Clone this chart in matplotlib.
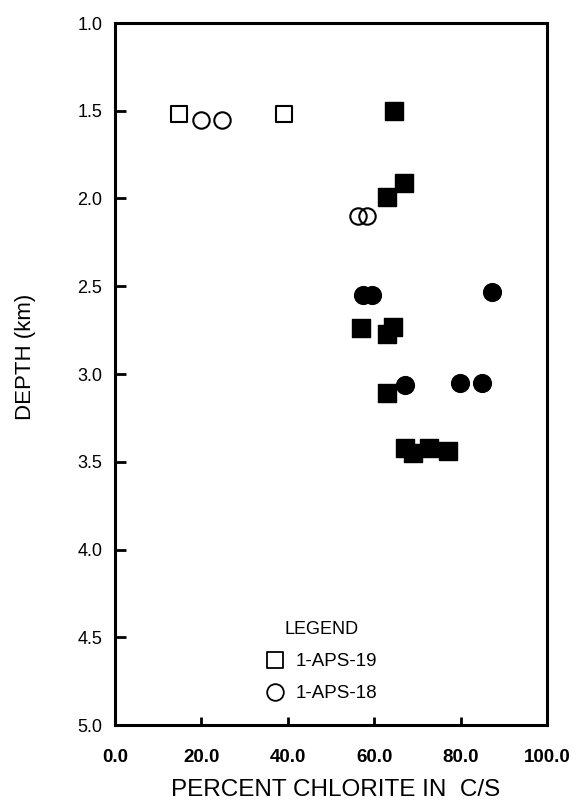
import matplotlib
matplotlib.use("Agg")
import matplotlib.pyplot as plt
from matplotlib.markers import MarkerStyle
from matplotlib.lines import Line2D

plt.rcParams['font.family'] = ['Liberation Sans', 'DejaVu Sans']

# Open squares: 1-APS-19
aps19_open_x = [14.8, 39.1]
aps19_open_y = [1.52, 1.52]
# Open circles: 1-APS-18
aps18_open_x = [19.9, 24.8, 56.3, 58.3]
aps18_open_y = [1.55, 1.55, 2.10, 2.10]
# Filled squares
aps19_fill_x = [64.6, 66.9, 63.0, 56.9, 64.4, 62.9, 63.0, 67.1, 69.0, 72.7, 77.1]
aps19_fill_y = [1.50, 1.91, 1.99, 2.74, 2.73, 2.77, 3.11, 3.42, 3.45, 3.42, 3.44]
# Filled circles
aps18_fill_x = [57.4, 59.5, 87.3, 67.1, 79.9, 85.0]
aps18_fill_y = [2.55, 2.55, 2.53, 3.06, 3.05, 3.05]

x_ticks = [0, 20, 40, 60, 80, 100]
x_tick_labels = ["0.0", "20.0", "40.0", "60.0", "80.0", "100.0"]
y_ticks = [1.0, 1.5, 2.0, 2.5, 3.0, 3.5, 4.0, 4.5, 5.0]
y_tick_labels = ["1.0", "1.5", "2.0", "2.5", "3.0", "3.5", "4.0", "4.5", "5.0"]
legend_labels = ["1-APS-19", "1-APS-18"]

fig = plt.figure(figsize=(5.77, 8.05), dpi=100)
ax = fig.add_axes([115/577, 1-725/805, 432/577, 702/805])

sq = MarkerStyle('s', joinstyle='round')
ci = MarkerStyle('o')

ax.plot(aps19_fill_x, aps19_fill_y, linestyle='none', marker=sq, ms=12.3,
        mfc='black', mec='black', mew=1.0)
ax.plot(aps18_fill_x, aps18_fill_y, linestyle='none', marker=ci, ms=12.8,
        mfc='black', mec='black', mew=1.0)
ax.plot(aps19_open_x, aps19_open_y, linestyle='none', marker=sq, ms=11.5,
        mfc='white', mec='black', mew=1.5)
ax.plot(aps18_open_x, aps18_open_y, linestyle='none', marker=ci, ms=11.8,
        mfc='none', mec='black', mew=1.5)

ax.set_xlim(0, 100)
ax.set_ylim(5.0, 1.0)
ax.set_xticks(x_ticks)
ax.set_xticklabels(x_tick_labels, fontsize=13.5, fontweight='bold')
ax.set_yticks(y_ticks)
ax.set_yticklabels(y_tick_labels, fontsize=13)

ax.tick_params(axis='x', direction='in', length=6, width=2, pad=17)
ax.tick_params(axis='y', direction='in', length=8, width=2, pad=9)
for s in ax.spines.values():
    s.set_linewidth(2.2)

ax.set_xlabel("PERCENT CHLORITE IN  C/S", fontsize=17.5)
ax.xaxis.set_label_coords(0.51, -0.1012)
ax.xaxis.label.set_va('baseline')
ax.set_ylabel("DEPTH (km)", fontsize=16)
ax.yaxis.set_label_coords(-0.208, 0.524)
ax.yaxis.label.set_va('center')

handles = [
    Line2D([], [], linestyle='none', marker=sq, ms=11.5, mfc='white', mec='black', mew=1.3),
    Line2D([], [], linestyle='none', marker=ci, ms=12, mfc='white', mec='black', mew=1.3),
]
leg = ax.legend(handles, legend_labels, title="LEGEND", frameon=False,
                loc='center', bbox_to_anchor=(0.478, 0.09), fontsize=13.5,
                title_fontsize=13, handletextpad=0.6, labelspacing=0.8,
                handlelength=1.0, borderpad=0.2)
leg.get_title().set_fontweight('medium')
leg._legend_box.align = "center"

fig.savefig("out.png", dpi=100)
